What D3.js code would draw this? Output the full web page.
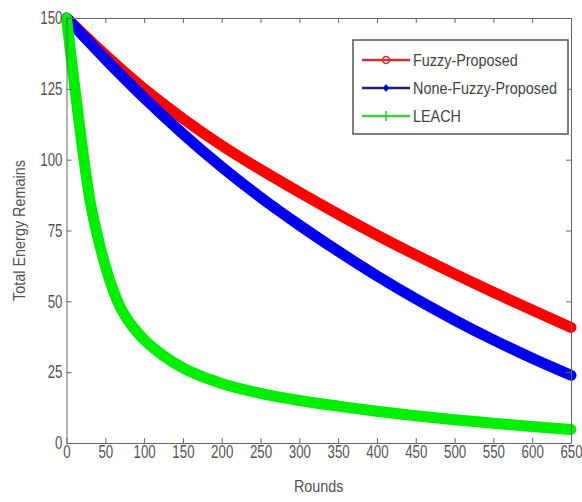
<!DOCTYPE html>
<html>
<head>
<meta charset="utf-8">
<script src="https://cdn.jsdelivr.net/npm/d3@7"></script>
<style>
  body { margin: 0; background: #fff; }
  text { font-family: "Liberation Sans", Arial, sans-serif; }
</style>
</head>
<body>
<script>
const rounds = [0, 50, 100, 150, 200, 250, 300, 350, 400, 450, 500, 550, 600, 650];
const fuzzy = [150, 137, 125, 114.5, 105, 96.5, 88.5, 80.8, 73.4, 66.4, 59.7, 53.2, 46.9, 40.8];
const noneFuzzy = [150, 135.5, 121.8, 109.1, 97.4, 86.7, 76.9, 67.7, 59, 50.9, 43.4, 36.4, 29.9, 23.9];

const leachRounds = [0, 10, 20, 30, 40, 50, 60, 70, 80, 90, 100, 125, 150, 175, 200, 250, 300, 350, 400, 450, 500, 550, 600, 650];
const leach = [150, 127, 105, 86, 73, 62.5, 54, 47.5, 43, 39.5, 36.5, 30.8, 26.5, 23.4, 21, 17.5, 15, 13, 11.2, 9.6, 8.2, 7, 5.8, 4.8];

const xTicks = [0, 50, 100, 150, 200, 250, 300, 350, 400, 450, 500, 550, 600, 650];
const xTickLabels = ["0", "50", "100", "150", "200", "250", "300", "350", "400", "450", "500", "550", "600", "650"];
const yTicks = [0, 25, 50, 75, 100, 125, 150];

const seriesNames = ["Fuzzy-Proposed", "None-Fuzzy-Proposed", "LEACH"];
const seriesColors = ["#ff0000", "#0000ee", "#00ee00"];
const legendLineColors = ["#d03030", "#202060", "#40d040"];

const width = 582, height = 502;
const margin = {left: 66.5, right: 11, top: 18, bottom: 59};

const svg = d3.select("body").append("svg")
  .attr("width", width)
  .attr("height", height);

const x = d3.scaleLinear().domain([0, 650]).range([margin.left, width - margin.right]);
const y = d3.scaleLinear().domain([0, 150]).range([height - margin.bottom, margin.top]);

const line = d3.line()
  .x(d => x(d[0]))
  .y(d => y(d[1]))
  .curve(d3.curveMonotoneX);

const data = [
  d3.zip(rounds, fuzzy),
  d3.zip(rounds, noneFuzzy),
  d3.zip(leachRounds, leach)
];

svg.append("defs").append("clipPath").attr("id", "clip")
  .append("rect")
  .attr("x", margin.left - 6).attr("y", margin.top - 6)
  .attr("width", width - margin.left - margin.right + 12)
  .attr("height", height - margin.top - margin.bottom + 6);

svg.append("g").selectAll(".series")
  .data(data)
  .enter()
    .append("path")
    .attr("class", "series")
    .attr("clip-path", "url(#clip)")
    .attr("d", line)
    .attr("fill", "none")
    .attr("stroke", (d, i) => seriesColors[i])
    .attr("stroke-width", 11)
    .attr("stroke-linecap", "round");

// axes, ticks pointing inside like MATLAB
const axisColor = "#666";
const axBottom = svg.append("g")
  .attr("transform", `translate(0,${height - margin.bottom})`)
  .call(d3.axisBottom(x).tickValues(xTicks).tickFormat((d, i) => xTickLabels[i]).tickSizeInner(-5).tickSizeOuter(0).tickPadding(4));
svg.append("g")
  .attr("transform", `translate(0,${margin.top})`)
  .call(d3.axisTop(x).tickValues(xTicks).tickFormat("").tickSizeInner(-5).tickSizeOuter(0));
const axLeft = svg.append("g")
  .attr("transform", `translate(${margin.left},0)`)
  .call(d3.axisLeft(y).tickValues(yTicks).tickSizeInner(-5).tickSizeOuter(0).tickPadding(4));
svg.append("g")
  .attr("transform", `translate(${width - margin.right},0)`)
  .call(d3.axisRight(y).tickValues(yTicks).tickFormat("").tickSizeInner(-5).tickSizeOuter(0));

svg.selectAll(".domain, .tick line").attr("stroke", axisColor);

// narrow, tall tick labels
const sx = 0.74;
svg.selectAll(".tick text")
  .attr("font-family", '"Liberation Sans", Arial, sans-serif')
  .attr("font-size", 18)
  .attr("fill", "#555");
axBottom.selectAll(".tick text")
  .attr("transform", `scale(${sx},1)`)
  .attr("y", 2)
  .attr("dy", "0.71em");
axLeft.selectAll(".tick text")
  .attr("transform", `scale(${sx},1)`)
  .attr("x", -4 / sx);

// axis titles
svg.append("text")
  .attr("transform", `translate(${(margin.left + width - margin.right) / 2},492) scale(0.9,1)`)
  .attr("text-anchor", "middle")
  .attr("font-size", 16)
  .attr("fill", "#555")
  .text("Rounds");

svg.append("text")
  .attr("transform", `translate(25,${(margin.top + height - margin.bottom) / 2}) rotate(-90) scale(0.9,1)`)
  .attr("text-anchor", "middle")
  .attr("font-size", 16)
  .attr("fill", "#555")
  .text("Total Energy Remains");

// legend
const legend = svg.append("g");
legend.append("rect")
  .attr("x", 353).attr("y", 40)
  .attr("width", 215).attr("height", 94)
  .attr("fill", "#fff")
  .attr("stroke", "#555")
  .attr("stroke-width", 1.5);

const items = legend.selectAll(".item")
  .data(seriesNames)
  .enter()
    .append("g")
    .attr("class", "item")
    .attr("transform", (d, i) => `translate(0,${60 + i * 28})`);

items.append("line")
  .attr("x1", 362).attr("x2", 410)
  .attr("y1", 0).attr("y2", 0)
  .attr("stroke", (d, i) => legendLineColors[i])
  .attr("stroke-width", 2.5);

items.each(function(d, i) {
  const g = d3.select(this);
  if (i === 0) {
    g.append("circle").attr("cx", 386).attr("cy", 0).attr("r", 3.5)
      .attr("fill", "none").attr("stroke", "#d03030").attr("stroke-width", 1.5);
  } else if (i === 1) {
    g.append("path").attr("d", "M386,-4L389,0L386,4L383,0Z").attr("fill", "#0000cc");
  } else {
    g.append("line").attr("x1", 386).attr("x2", 386).attr("y1", -5).attr("y2", 5)
      .attr("stroke", "#30c030").attr("stroke-width", 1.5);
  }
});

items.append("text")
  .attr("transform", "translate(413,6) scale(0.9,1)")
  .attr("font-size", 16)
  .attr("fill", "#444")
  .text(d => d);
</script>
</body>
</html>
